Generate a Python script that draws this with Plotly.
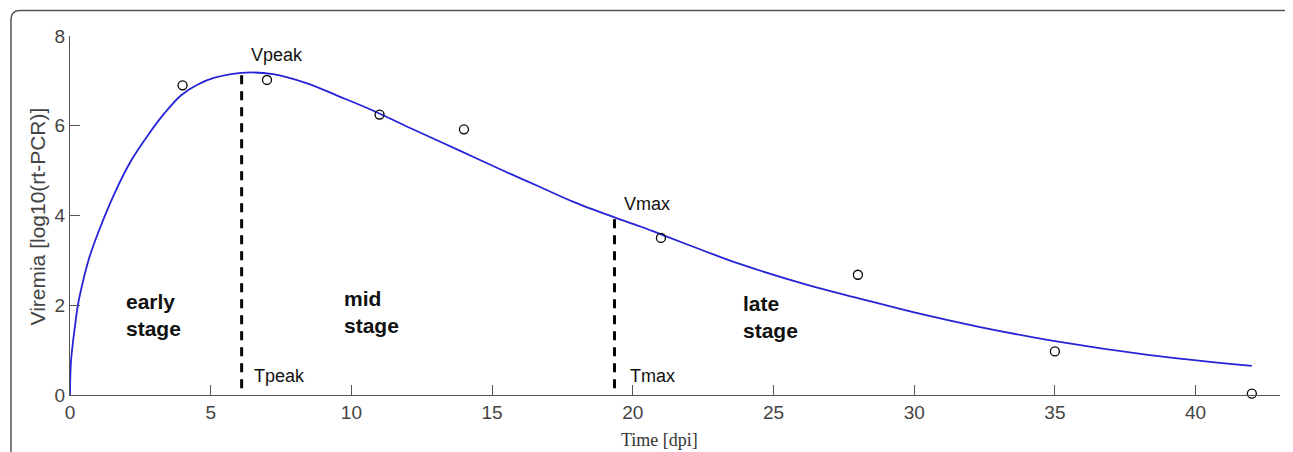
import plotly.graph_objects as go

# ---- data ----
obs_time = [4, 7, 11, 14, 21, 28, 35, 42]
obs_viremia = [6.9, 7.02, 6.25, 5.92, 3.5, 2.68, 0.97, 0.03]

fit_time = [0, 0.03, 0.1, 0.18, 0.28, 0.45, 0.66, 0.99, 1.58, 2.18, 2.77, 3.36, 3.95,
            4.54, 5.14, 6.08, 7.21, 8.40, 9.58, 10.76, 11.95, 13.14, 14.32, 15.5,
            16.69, 17.87, 19.3, 20.25, 21.0, 22.5, 23.8, 26.17, 28.0, 30.0, 32.3,
            35.0, 38.37, 42.0]
fit_viremia = [0, 0.7, 1.15, 1.55, 2.0, 2.5, 3.01, 3.6, 4.49, 5.23, 5.79, 6.28, 6.68,
               6.92, 7.07, 7.18, 7.15, 6.95, 6.65, 6.34, 5.99, 5.65, 5.31, 4.97,
               4.64, 4.31, 3.97, 3.76, 3.58, 3.22, 2.92, 2.46, 2.16, 1.84, 1.52,
               1.2, 0.89, 0.65]

t_peak, v_peak = 6.1, 7.18
t_max, v_max = 19.35, 3.95
dash_bottom = 0.15

x_ticks = [0, 5, 10, 15, 20, 25, 30, 35, 40]
y_ticks = [0, 2, 4, 6, 8]

stage_labels = ["early<br>stage", "mid<br>stage", "late<br>stage"]
stage_x = [1.92, 9.66, 23.84]
stage_y = [1.78, 1.85, 1.74]

# page has an 8px body margin; figure is sized to fill the rest of the window
OFF = 8
W, H = 1293 - OFF, 452 - OFF
# plot area in page pixels: left 70, right 1280, top 36, bottom 395
L, T = 70 - OFF, 36 - OFF
R, B = W - (1280 - OFF), H - (395 - OFF)
pw, ph = W - L - R, H - T - B

def px(x):  # page pixel x -> paper
    return (x - OFF - L) / pw

def py(y):  # page pixel y -> paper
    return (H - B - (y - OFF)) / ph

fig = go.Figure()
fig.add_trace(go.Scatter(x=fit_time, y=fit_viremia, mode="lines",
                         line=dict(color="#2424d6", width=1.8, shape="spline", smoothing=1.0),
                         hoverinfo="skip", showlegend=False))
fig.add_trace(go.Scatter(x=[t_peak, t_peak], y=[dash_bottom, v_peak], mode="lines",
                         line=dict(color="black", width=3, dash="9px,7px"), showlegend=False))
fig.add_trace(go.Scatter(x=[t_max, t_max], y=[dash_bottom, v_max], mode="lines",
                         line=dict(color="black", width=3, dash="9px,7px"), showlegend=False))
fig.add_trace(go.Scatter(x=obs_time, y=obs_viremia, mode="markers",
                         marker=dict(symbol="circle-open", size=9, color="black",
                                     line=dict(width=1.3, color="black")),
                         cliponaxis=False, showlegend=False))

ann = []
txt_font = dict(family="Liberation Sans, Arial", size=18, color="#111")
ann.append(dict(x=7.35, y=7.57, text="Vpeak", showarrow=False, font=txt_font))
ann.append(dict(x=7.43, y=0.42, text="Tpeak", showarrow=False, font=txt_font))
ann.append(dict(x=20.5, y=4.25, text="Vmax", showarrow=False, font=txt_font))
ann.append(dict(x=20.7, y=0.42, text="Tmax", showarrow=False, font=txt_font))
for s, sx, sy in zip(stage_labels, stage_x, stage_y):
    ann.append(dict(x=sx, y=sy, text="<b>" + s + "</b>", showarrow=False, xanchor="left",
                    align="left", font=dict(family="Liberation Sans, Arial", size=21, color="#111")))
# axis titles
ann.append(dict(xref="paper", yref="paper", x=px(37.5), y=py(217), xanchor="center", yanchor="middle",
                text="Viremia [log10(rt-PCR)]", textangle=-90, showarrow=False,
                font=dict(family="Liberation Sans, Arial", size=21, color="#444")))
ann.append(dict(xref="paper", yref="paper", x=px(659), y=py(440), xanchor="center", yanchor="middle",
                text="Time [dpi]", showarrow=False,
                font=dict(family="Liberation Serif, Times New Roman", size=18, color="#333")))

r = 9
x0, y0, x1, y1 = 11, 10.5, 1293.5, 470
path = (f"M {px(x0)},{py(y1)} L {px(x0)},{py(y0 + r)} "
        f"Q {px(x0)},{py(y0)} {px(x0 + r)},{py(y0)} "
        f"L {px(x1 - r)},{py(y0)} Q {px(x1)},{py(y0)} {px(x1)},{py(y0 + r)} L {px(x1)},{py(y1)}")

fig.update_layout(
    width=W, height=H, margin=dict(l=L, r=R, t=T, b=B, autoexpand=False),
    paper_bgcolor="white", plot_bgcolor="white",
    annotations=ann,
    shapes=[dict(type="path", xref="paper", yref="paper", path=path,
                 line=dict(color="#555", width=1.5), layer="below")],
    xaxis=dict(range=[0, 43], tickvals=x_ticks, ticks="inside", ticklen=10, tickcolor="#555",
               showline=True, linecolor="#555", linewidth=1.3, showgrid=False, zeroline=False,
               tickfont=dict(family="Liberation Sans, Arial", size=19, color="#444")),
    yaxis=dict(range=[0, 8], tickvals=y_ticks, ticks="inside", ticklen=10, tickcolor="#555",
               showline=True, linecolor="#555", linewidth=1.3, showgrid=False, zeroline=False,
               tickfont=dict(family="Liberation Sans, Arial", size=19, color="#444")),
)
fig.write_html("out.html")
